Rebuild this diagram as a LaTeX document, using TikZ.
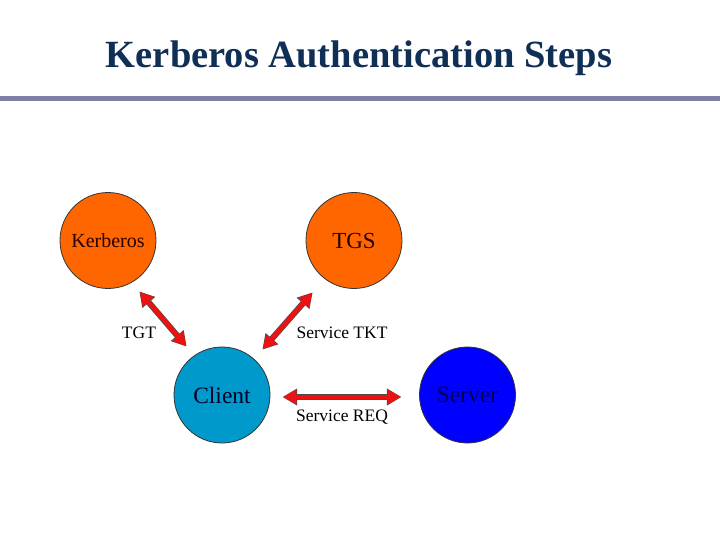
\documentclass[tikz,border=0pt]{standalone}
\usepackage{fontspec}
\setmainfont{Liberation Serif}
\usetikzlibrary{arrows.meta}
\definecolor{titleblue}{HTML}{0F2F57}
\definecolor{barcol}{HTML}{7F7FA6}
\definecolor{orng}{HTML}{FF6600}
\definecolor{clientc}{HTML}{0099CC}
\definecolor{serverc}{HTML}{0000FF}
\definecolor{fatred}{HTML}{EE1111}
\tikzset{
  circ/.style={circle, draw=black!80, line width=0.8pt, minimum size=96pt, inner sep=0pt},
  lbl/.style={font=\fontsize{17.5}{20}\selectfont, text=black},
  fatarrow/.style={line width=4.5pt, fatred, {Triangle[length=13pt,width=14pt]}-{Triangle[length=13pt,width=14pt]}},
  fatedge/.style={line width=6pt, black!70, {Triangle[length=14.5pt,width=16pt]}-{Triangle[length=14.5pt,width=16pt]}}
}
\begin{document}
\begin{tikzpicture}[x=1pt,y=-1pt]
\useasboundingbox (0,0) rectangle (720,540);
\node[font=\fontsize{38.5}{44}\selectfont\bfseries, text=titleblue, anchor=base] (title) at (359,68) {Kerberos Authentication Steps};
\fill[barcol] (0,96) rectangle (720,101.5);
\node[circ, fill=orng, font=\fontsize{20}{22}\selectfont, text=black!85!red] (kerb) at (108,240.5) {Kerberos};
\node[circ, fill=orng, font=\fontsize{23}{25}\selectfont, text=black!85!red] (tgs) at (354,240.5) {TGS};
\node[circ, fill=clientc, font=\fontsize{23.5}{25}\selectfont, text=black!85!blue] (client) at (222,395) {Client};
\node[circ, fill=serverc, font=\fontsize{23.5}{25}\selectfont, text=black!70!blue] (server) at (467.5,395) {Server};
\coordinate (a1s) at (139,291);
\coordinate (a1e) at (187,347);
\coordinate (a2s) at (313,292);
\coordinate (a2e) at (262,350);
\coordinate (a3s) at (282,397);
\coordinate (a3e) at (402,397);
\foreach \s/\e in {a1s/a1e,a2s/a2e,a3s/a3e}{
  \draw[fatedge, shorten <=0.6pt, shorten >=0.6pt] (\s) -- (\e);
  \draw[fatarrow, shorten <=1.3pt, shorten >=1.3pt] (\s) -- (\e);
}
\node[lbl] (tgt) at (139,333) {TGT};
\node[lbl] (stkt) at (342,333) {Service TKT};
\node[lbl] (sreq) at (342,417) {Service REQ};
\end{tikzpicture}
\end{document}
